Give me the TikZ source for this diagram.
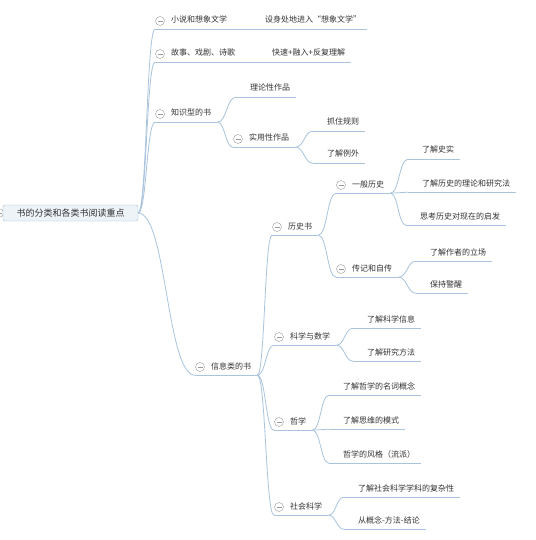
\documentclass[tikz,border=0pt]{standalone}
\usepackage{fontspec}
\newfontfamily\cjk{Noto Sans CJK SC}
\usetikzlibrary{calc}
\definecolor{mmline}{HTML}{A9C4DC}
\definecolor{mmtext}{HTML}{333333}
\definecolor{mmmark}{HTML}{9A9A9A}
\definecolor{mmfill}{HTML}{EEF3F8}
\definecolor{mmedge}{HTML}{A4BFD6}

\begin{document}
\begin{tikzpicture}[x=1pt,y=-1pt,
  uline/.style={draw=mmline,line width=0.8pt},
  conn/.style={draw=mmline,line width=0.8pt,
    to path={.. controls ($(\tikztostart)!0.5!(\tikztotarget|-\tikztostart)$)
      and ($(\tikztotarget)!0.5!(\tikztostart|-\tikztotarget)$) .. (\tikztotarget)}},
  topic/.style 2 args={font=\cjk\fontsize{8}{9}\selectfont,text=mmtext,anchor=west,
    inner xsep=0pt,inner ysep=4pt,text height=6pt,text depth=2pt,
    append after command={\pgfextra{\edef\mmname{\tikzlastnode}}
      ([xshift=-#1]\mmname.south west) coordinate (\mmname-in)
      ([xshift=6pt]\mmname.south east) coordinate (\mmname-out)
      (\mmname-in) edge[uline] (\mmname-out) #2}},
  leaf/.style={topic={14pt}{}},
  foldmark/.style={circle,draw=mmmark,fill=white,minimum size=9pt,inner sep=0pt,outer sep=0pt,
    path picture={\draw[mmmark] ([xshift=-2.5pt]path picture bounding box.center)
      -- ([xshift=2.5pt]path picture bounding box.center);}},
  fold/.style={topic={16pt}{([xshift=-11pt]\mmname.west) node[foldmark]{}}},
  rootbox/.style={draw=mmedge,fill=mmfill,rounded corners=2pt,minimum width=135pt,
    minimum height=16pt,inner sep=0pt,text=mmtext,font=\cjk\fontsize{9}{10}\selectfont}]
  \useasboundingbox (0,0) rectangle (535,540);
  \fill[white] (0,0) rectangle (535,540);

  % root
  \node[foldmark] (rootmark) at (-1,213) {};
  \node[rootbox] (root) at (70.5,213) {书的分类和各类书阅读重点};

  % first level
  \node[fold] (nov) at (171,21) {小说和想象文学};
  \node[fold] (sto) at (171,54) {故事、戏剧、诗歌};
  \node[fold] (know) at (171,114) {知识型的书};
  \node[fold] (info) at (211,367) {信息类的书};

  \node[leaf] (novr) at (265,21) {设身处地进入“想象文学”};
  \node[leaf] (stor) at (272,54) {快速+融入+反复理解};

  % knowledge books
  \node[leaf] (theo) at (250,89) {理论性作品};
  \node[fold] (prac) at (249,139) {实用性作品};
  \node[leaf] (rule) at (327,123) {抓住规则};
  \node[leaf] (excp) at (327,155) {了解例外};

  % information books
  \node[fold] (hist) at (288,227) {历史书};
  \node[fold] (gen) at (352,185) {一般历史};
  \node[leaf] (fact) at (422,151) {了解史实};
  \node[leaf] (meth) at (422,184) {了解历史的理论和研究法};
  \node[leaf] (less) at (420,217) {思考历史对现在的启发};
  \node[fold] (bio) at (352,269) {传记和自传};
  \node[leaf] (stand) at (430,253) {了解作者的立场};
  \node[leaf] (alert) at (430,285) {保持警醒};

  \node[fold] (sci) at (290,337) {科学与数学};
  \node[leaf] (sinfo) at (367,320) {了解科学信息};
  \node[leaf] (smeth) at (367,353) {了解研究方法};

  \node[fold] (phil) at (290,422) {哲学};
  \node[leaf] (term) at (343,387) {了解哲学的名词概念};
  \node[leaf] (mode) at (343,421) {了解思维的模式};
  \node[leaf] (school) at (343,455) {哲学的风格（流派）};

  \node[fold] (soc) at (290,507) {社会科学};
  \node[leaf] (cplx) at (358,489) {了解社会科学学科的复杂性};
  \node[leaf] (cmr) at (358,521) {从概念-方法-结论};

  % connectors
  \foreach \c in {nov,sto,know,info}{\draw[conn] (root.east) to (\c-in);}
  \draw[conn] (nov-out) to (novr-in);
  \draw[conn] (sto-out) to (stor-in);
  \foreach \c in {theo,prac}{\draw[conn] (know-out) to (\c-in);}
  \foreach \c in {rule,excp}{\draw[conn] (prac-out) to (\c-in);}
  \foreach \c in {hist,sci,phil,soc}{\draw[conn] (info-out) to (\c-in);}
  \foreach \c in {gen,bio}{\draw[conn] (hist-out) to (\c-in);}
  \foreach \c in {fact,meth,less}{\draw[conn] (gen-out) to (\c-in);}
  \foreach \c in {stand,alert}{\draw[conn] (bio-out) to (\c-in);}
  \foreach \c in {sinfo,smeth}{\draw[conn] (sci-out) to (\c-in);}
  \foreach \c in {term,mode,school}{\draw[conn] (phil-out) to (\c-in);}
  \foreach \c in {cplx,cmr}{\draw[conn] (soc-out) to (\c-in);}
\end{tikzpicture}
\end{document}
